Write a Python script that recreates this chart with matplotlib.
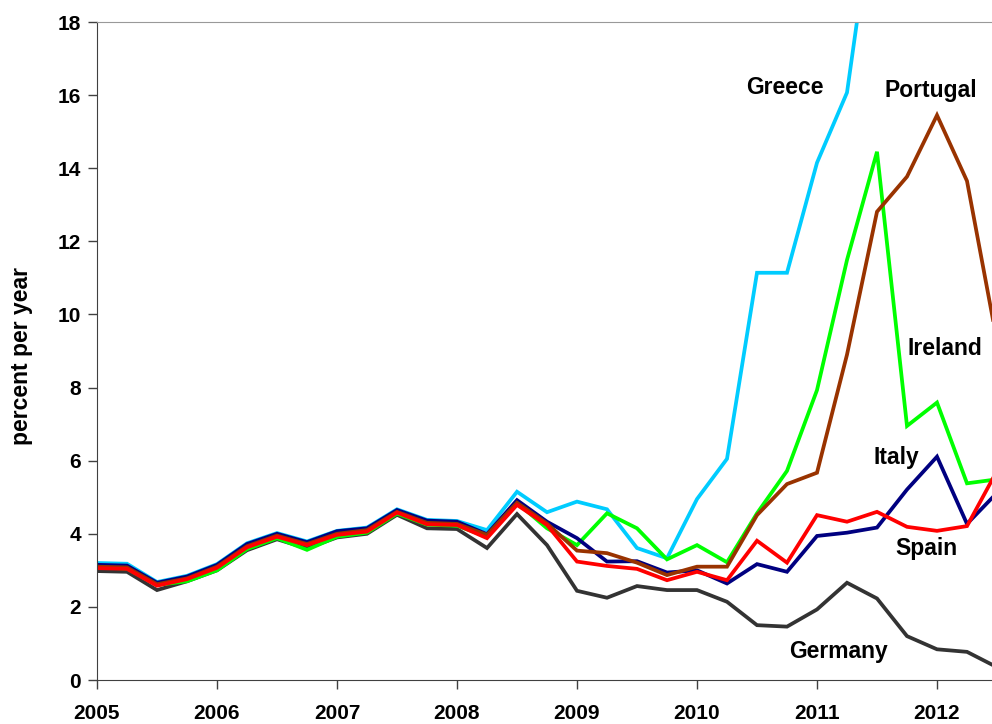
import numpy as np
import matplotlib
matplotlib.use('Agg')
import matplotlib.pyplot as plt

# quarterly observations, 2005Q1 .. 2012Q3
quarters = np.arange(31) * 0.25 + 2005

germany = [2.98, 2.96, 2.46, 2.70, 3.00, 3.55, 3.85, 3.60, 3.90, 4.00, 4.52, 4.15, 4.13, 3.61, 4.54,
           3.69, 2.44, 2.25, 2.57, 2.46, 2.46, 2.14, 1.50, 1.46, 1.93, 2.66, 2.23, 1.20, 0.84, 0.77, 0.35]
greece = [3.20, 3.18, 2.68, 2.85, 3.17, 3.74, 4.02, 3.79, 4.08, 4.17, 4.67, 4.38, 4.35, 4.10, 5.15,
          4.59, 4.88, 4.67, 3.61, 3.33, 4.95, 6.05, 11.14, 11.14, 14.15, 16.07, 21.9, 24.0, 30.0, 22.0, 27.0]
ireland = [3.08, 3.05, 2.60, 2.70, 3.00, 3.58, 3.88, 3.56, 3.92, 4.03, 4.55, 4.25, 4.22, 3.92, 4.85,
           4.15, 3.69, 4.56, 4.15, 3.30, 3.69, 3.22, 4.56, 5.72, 7.93, 11.49, 14.45, 6.95, 7.59, 5.38, 5.49]
italy = [3.15, 3.13, 2.66, 2.83, 3.15, 3.72, 4.00, 3.77, 4.07, 4.15, 4.65, 4.36, 4.33, 3.99, 4.92,
         4.33, 3.88, 3.24, 3.25, 2.94, 3.00, 2.64, 3.17, 2.96, 3.94, 4.03, 4.17, 5.21, 6.11, 4.27, 5.12]
portugal = [3.10, 3.08, 2.62, 2.78, 3.10, 3.66, 3.95, 3.72, 4.00, 4.10, 4.60, 4.30, 4.27, 3.97, 4.85,
            4.28, 3.54, 3.47, 3.21, 2.87, 3.10, 3.10, 4.51, 5.36, 5.67, 8.90, 12.81, 13.77, 15.45, 13.65, 9.27]
spain = [3.06, 3.04, 2.58, 2.76, 3.07, 3.63, 3.92, 3.69, 3.97, 4.06, 4.58, 4.26, 4.24, 3.88, 4.79,
         4.24, 3.24, 3.12, 3.04, 2.73, 2.96, 2.73, 3.81, 3.21, 4.51, 4.33, 4.60, 4.19, 4.08, 4.21, 5.72]

series = [
    ("Germany", germany, "#333333"),
    ("Greece", greece, "#00CCFF"),
    ("Ireland", ireland, "#00FF00"),
    ("Italy", italy, "#000080"),
    ("Portugal", portugal, "#993300"),
    ("Spain", spain, "#FF0000"),
]

# label positions (data coords, text baseline)
label_pos = {
    "Greece": (2010.733, 16.03),
    "Portugal": (2011.946, 15.95),
    "Ireland": (2012.068, 8.88),
    "Italy": (2011.661, 5.90),
    "Spain": (2011.914, 3.42),
    "Germany": (2011.180, 0.60),
}

plt.rcParams['font.family'] = ['Liberation Sans', 'DejaVu Sans']

fig = plt.figure(figsize=(9.92, 7.24), dpi=100)
ax = fig.add_axes([97 / 992, 44 / 724, 1 - 97 / 992, 658 / 724])

for name, vals, color in series:
    ax.plot(quarters, vals, color=color, lw=2.7, solid_joinstyle='miter')

for name, (x, y) in label_pos.items():
    ax.text(x, y, name, ha='center', va='baseline', fontsize=16.5, fontweight='bold')

ax.set_xlim(2005, 2005 + (992 - 97) / 120)
ax.set_ylim(0, 18)
ax.set_xticks(range(2005, 2013))
ax.set_yticks(range(0, 19, 2))
ax.tick_params(axis='both', direction='out', length=6.5, width=1, color='#404040',
               labelsize=15)
ax.tick_params(axis='x', pad=11)
ax.tick_params(axis='y', pad=5)
for lbl in ax.get_xticklabels() + ax.get_yticklabels():
    lbl.set_fontweight('bold')

fig.text(22 / 992, 1 - 356 / 724, "percent per year", rotation=90, ha='center', va='center',
         fontsize=16.5, fontweight='bold')

ax.spines['right'].set_visible(False)
ax.spines['top'].set_color('#999999')
ax.spines['left'].set_color('#404040')
ax.spines['bottom'].set_color('#404040')

fig.savefig("out.png", dpi=100)
